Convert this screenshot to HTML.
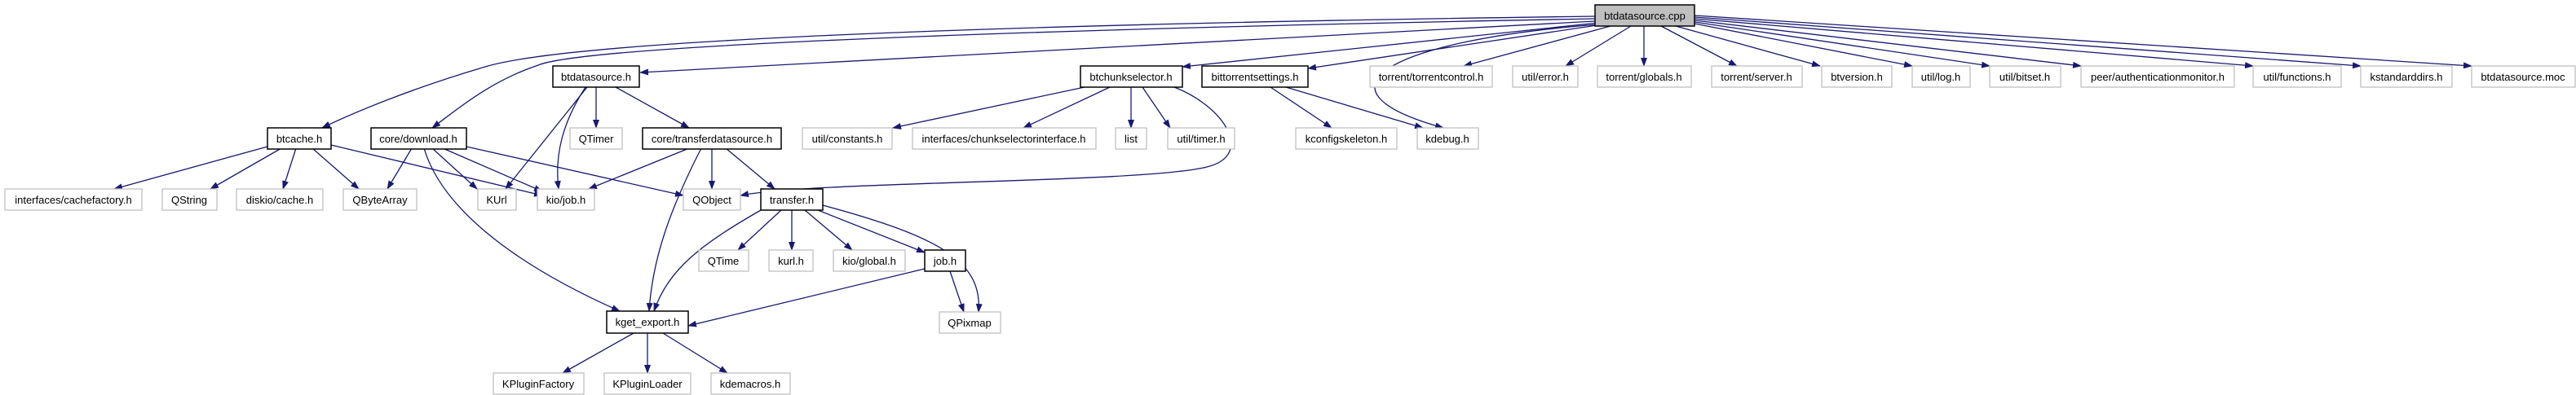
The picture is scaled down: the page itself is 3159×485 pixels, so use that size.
<!DOCTYPE html>
<html><head><meta charset="utf-8"><style>
html,body{margin:0;padding:0;background:#fff;width:3159px;height:485px;overflow:hidden}
svg text{font-family:"Liberation Sans",sans-serif;font-size:13px;fill:#000}
</style></head><body>
<svg width="3159" height="485" viewBox="0 0 3159 485" xmlns="http://www.w3.org/2000/svg">
<defs><marker id="a" markerWidth="11" markerHeight="8" refX="10" refY="4" orient="auto" markerUnits="userSpaceOnUse"><path d="M0,0 L11,4 L0,8 z" fill="#191970"/></marker></defs>
<g fill="none" stroke="#191970" stroke-width="1.3" marker-end="url(#a)">
<path d="M1956,20 C1200,30 700,50 595,82 C500,110 430,140 395,157"/>
<path d="M1956,23 C1300,35 720,55 660,80 C600,100 560,135 530,157"/>
<path d="M1956,26 L785,89"/>
<path d="M1960,28 L1450,82"/>
<path d="M1965,30 L1604,84"/>
<path d="M1960,30 C1700,50 1600,110 1770,157"/>
<path d="M1975,32 L1795,81"/>
<path d="M2000,32 L1920,81"/>
<path d="M2016,32 L2016,81"/>
<path d="M2037,32 L2130,81"/>
<path d="M2055,32 L2232,81"/>
<path d="M2078,29 L2345,81"/>
<path d="M2078,27 L2440,81"/>
<path d="M2078,25 L2552,81"/>
<path d="M2078,23 L2763,81"/>
<path d="M2078,21 L2895,81"/>
<path d="M2078,19 L3031,81"/>
<path d="M1440,107 C1500,130 1540,190 1480,205 C1400,225 1000,222 908,240"/>
<path d="M720,107 L620,232"/>
<path d="M718,107 C690,150 680,190 685,232"/>
<path d="M731,107 L731,157"/>
<path d="M755,107 L845,157"/>
<path d="M328,180 L140,232"/>
<path d="M345,182 L258,232"/>
<path d="M363,182 L347,232"/>
<path d="M383,182 L440,232"/>
<path d="M406,178 L665,240"/>
<path d="M505,182 L475,232"/>
<path d="M530,182 L585,232"/>
<path d="M543,182 L665,235"/>
<path d="M572,180 L838,240"/>
<path d="M520,182 C540,250 620,320 760,382"/>
<path d="M845,182 L722,232"/>
<path d="M873,182 L873,232"/>
<path d="M890,182 L950,232"/>
<path d="M860,182 C820,260 800,320 796,382"/>
<path d="M958,258 L905,307"/>
<path d="M971,258 L971,307"/>
<path d="M987,258 L1045,307"/>
<path d="M1003,258 L1134,310"/>
<path d="M1009,252 C1150,290 1205,320 1200,383"/>
<path d="M933,258 C860,300 820,330 802,382"/>
<path d="M1134,330 L844,400"/>
<path d="M1165,333 L1182,383"/>
<path d="M1330,107 L1095,157"/>
<path d="M1361,107 L1255,157"/>
<path d="M1387,107 L1387,157"/>
<path d="M1401,107 L1435,157"/>
<path d="M1558,107 L1633,157"/>
<path d="M1577,107 L1745,157"/>
<path d="M777,409 L690,458"/>
<path d="M794,409 L794,458"/>
<path d="M813,409 L892,458"/>
</g>
<g id="nodes"></g>
<g stroke="#bfbfbf" stroke-width="1.3" fill="#fff">
<rect x="1680" y="81" width="150" height="26"/><rect x="1855" y="81" width="80" height="26"/><rect x="1959" y="81" width="115" height="26"/><rect x="2099" y="81" width="111" height="26"/><rect x="2234" y="81" width="86" height="26"/><rect x="2345" y="81" width="71" height="26"/><rect x="2440" y="81" width="87" height="26"/><rect x="2552" y="81" width="188" height="26"/><rect x="2763" y="81" width="108" height="26"/><rect x="2895" y="81" width="112" height="26"/><rect x="3031" y="81" width="127" height="26"/>
<rect x="699" y="157" width="64" height="26"/><rect x="984" y="157" width="110" height="26"/><rect x="1119" y="157" width="225" height="26"/><rect x="1368" y="157" width="38" height="26"/><rect x="1432" y="157" width="82" height="26"/><rect x="1589" y="157" width="124" height="26"/><rect x="1738" y="157" width="75" height="26"/>
<rect x="6" y="232" width="168" height="26"/><rect x="199" y="232" width="67" height="26"/><rect x="290" y="232" width="106" height="26"/><rect x="421" y="232" width="90" height="26"/><rect x="586" y="232" width="47" height="26"/><rect x="659" y="232" width="70" height="26"/><rect x="838" y="232" width="70" height="26"/>
<rect x="857" y="307" width="61" height="26"/><rect x="943" y="307" width="54" height="26"/><rect x="1022" y="307" width="88" height="26"/>
<rect x="1152" y="383" width="75" height="26"/>
<rect x="605" y="458" width="111" height="26"/><rect x="741" y="458" width="106" height="26"/><rect x="872" y="458" width="97" height="26"/>
</g>
<g stroke="#000" stroke-width="1.5" fill="#fff">
<rect x="1956" y="6" width="122" height="26" fill="#bfbfbf"/>
<rect x="678" y="81" width="106" height="26"/><rect x="1325" y="81" width="125" height="26"/><rect x="1474" y="81" width="130" height="26"/>
<rect x="328" y="157" width="78" height="26"/><rect x="455" y="157" width="117" height="26"/><rect x="788" y="157" width="170" height="26"/>
<rect x="933" y="232" width="76" height="26"/><rect x="1134" y="307" width="50" height="26"/><rect x="744" y="382" width="100" height="27"/>
</g>
<g text-anchor="middle">
<text x="2017" y="24">btdatasource.cpp</text>
<text x="731" y="99">btdatasource.h</text><text x="1387" y="99">btchunkselector.h</text><text x="1539" y="99">bittorrentsettings.h</text><text x="1755" y="99">torrent/torrentcontrol.h</text><text x="1895" y="99">util/error.h</text><text x="2016" y="99">torrent/globals.h</text><text x="2154" y="99">torrent/server.h</text><text x="2277" y="99">btversion.h</text><text x="2380" y="99">util/log.h</text><text x="2483" y="99">util/bitset.h</text><text x="2646" y="99">peer/authenticationmonitor.h</text><text x="2817" y="99">util/functions.h</text><text x="2951" y="99">kstandarddirs.h</text><text x="3094" y="99">btdatasource.moc</text>
<text x="367" y="175">btcache.h</text><text x="513" y="175">core/download.h</text><text x="731" y="175">QTimer</text><text x="873" y="175">core/transferdatasource.h</text><text x="1039" y="175">util/constants.h</text><text x="1231" y="175">interfaces/chunkselectorinterface.h</text><text x="1387" y="175">list</text><text x="1473" y="175">util/timer.h</text><text x="1651" y="175">kconfigskeleton.h</text><text x="1775" y="175">kdebug.h</text>
<text x="90" y="250">interfaces/cachefactory.h</text><text x="232" y="250">QString</text><text x="343" y="250">diskio/cache.h</text><text x="466" y="250">QByteArray</text><text x="609" y="250">KUrl</text><text x="694" y="250">kio/job.h</text><text x="873" y="250">QObject</text><text x="971" y="250">transfer.h</text>
<text x="887" y="325">QTime</text><text x="970" y="325">kurl.h</text><text x="1066" y="325">kio/global.h</text><text x="1159" y="325">job.h</text>
<text x="794" y="400">kget_export.h</text><text x="1189" y="401">QPixmap</text>
<text x="660" y="476">KPluginFactory</text><text x="794" y="476">KPluginLoader</text><text x="920" y="476">kdemacros.h</text>
</g>
</svg>
</body></html>
